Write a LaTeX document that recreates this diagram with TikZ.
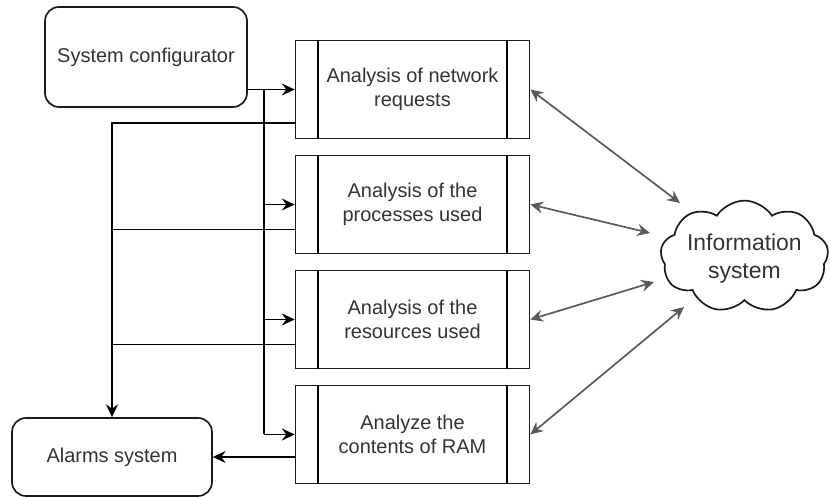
\documentclass[tikz,border=0pt]{standalone}
\usepackage{fontspec}
\setmainfont{Liberation Sans}
\usetikzlibrary{arrows.meta,positioning,calc,shapes.symbols}
\definecolor{ink}{HTML}{333333}
\definecolor{outline}{HTML}{1A1A1A}
\definecolor{linkgray}{HTML}{5A5A5A}
\tikzset{
  >={Stealth[length=3.2mm,width=3mm,inset=1.1mm]},
  flow/.style={->,draw=black,line width=1.2pt},
  bus/.style={draw=black,line width=1.2pt},
  exchange/.style={<->,draw=linkgray,line width=1.2pt},
  unitbox/.style={draw=outline,rounded corners=3.5mm,line width=1.2pt,font=\fontsize{14.2}{17}\selectfont,text=ink},
  procbox/.style={draw=outline,line width=1.2pt,minimum width=5.85cm,minimum height=2.45cm,align=center,font=\fontsize{14.2}{17}\selectfont,text=ink},
  cloudbox/.style={cloud,cloud puffs=9,cloud puff arc=115,cloud ignores aspect,draw=outline,line width=1.2pt,minimum width=4.2cm,minimum height=2.8cm,inner sep=0pt},
  cloudtext/.style={align=center,font=\fontsize{16.3}{19.8}\selectfont,text=ink},
}

\begin{document}
\begin{tikzpicture}[x=1cm,y=1cm]
\useasboundingbox (0,0) rectangle (20.775,12.425);

% Configurator and alarms --------------------------------------------------------
\node[unitbox,minimum width=5.05cm,minimum height=2.5cm] (config) at (3.65,11.0) {System configurator};
\node[unitbox,minimum width=5.0cm,minimum height=1.95cm] (alarms) at (2.8,1.0) {Alarms system};

% Analysis blocks ----------------------------------------------------------------
\node[procbox] (net) at (10.3125,10.1875) {Analysis of network\\requests};
\node[procbox] (proc) at (10.3125,7.3125) {Analysis of the\\processes used};
\node[procbox] (res) at (10.3125,4.4375) {Analysis of the\\resources used};
\node[procbox] (ram) at (10.3125,1.5625) {Analyze the\\contents of RAM};
\foreach \n in {net,proc,res,ram}{
  \draw[bus] ([xshift=5.9mm]\n.north west) -- ([xshift=5.9mm]\n.south west);
  \draw[bus] ([xshift=-5.9mm]\n.north east) -- ([xshift=-5.9mm]\n.south east);
}

% Configuration feed -------------------------------------------------------------
\draw[flow] (config.east |- net.west) -- (net.west);
\coordinate (feed) at ($(config.east |- net.west)+(0.4,0)$);
\draw[bus] (feed) -- (feed |- ram.west);
\foreach \n in {proc,res,ram}
  \draw[flow] (feed |- \n.west) -- (\n.west);

% Alarm collection ---------------------------------------------------------------
\draw[flow] ([yshift=-8.4mm]net.west) -| (alarms.north);
\foreach \n in {proc,res}{
  \coordinate (tap\n) at ([yshift=-6.25mm]\n.west);
  \draw[bus] (tap\n) -- (tap\n -| alarms.north);
}
\draw[flow] (ram.west |- alarms.east) -- (alarms.east);

% Information system -------------------------------------------------------------
\node[cloudbox] (info) at (18.61,6.01) {};
\node[cloudtext] (infolabel) at ([yshift=-0.5mm]info.center) {Information\\system};
\coordinate (in1) at (17.0,7.35);
\coordinate (in2) at (16.25,6.6);
\coordinate (in3) at (16.35,5.375);
\coordinate (in4) at (17.1,4.75);
\draw[exchange] (net.east) -- (in1);
\draw[exchange] (proc.east) -- (in2);
\draw[exchange] (res.east) -- (in3);
\draw[exchange] (ram.east) -- (in4);

\end{tikzpicture}
\end{document}
